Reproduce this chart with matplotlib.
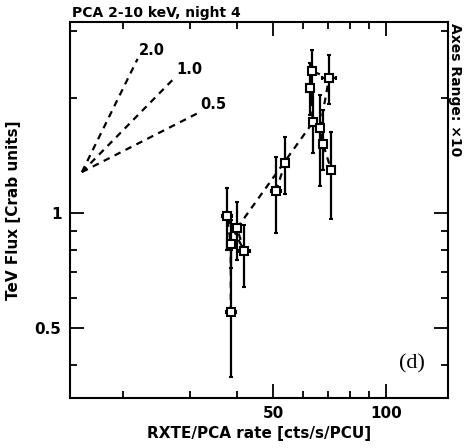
import numpy as np
import matplotlib
matplotlib.use("Agg")
import matplotlib.pyplot as plt
from matplotlib.ticker import FixedLocator, NullFormatter

# PCA count rate (cts/s/PCU) and TeV flux (Crab units), in time order
rate = [38.6, 38.6, 37.7, 41.9, 40.1, 63.9, 62.8, 63.5, 70.5, 66.7, 67.9, 71.3]
rate_err = [1.2, 0.0, 1.2, 1.6, 0.0, 0.0, 0.0, 0.0, 3.0, 0.0, 0.0, 0.0]
flux = [0.55, 0.83, 0.98, 0.795, 0.913, 1.73, 2.12, 2.35, 2.26, 1.67, 1.52, 1.30]
flux_lo = [0.372, 0.72, 0.80, 0.64, 0.753, 1.44, 1.81, 1.92, 1.93, 1.18, 1.30, 0.965]
flux_hi = [0.80, 0.96, 1.16, 0.93, 1.07, 2.10, 2.47, 2.67, 2.59, 2.04, 1.86, 1.63]

# second short run
rate2 = [50.9, 53.8]
rate2_err = [1.5, 0.0]
flux2 = [1.14, 1.35]
flux2_lo = [0.887, 1.12]
flux2_hi = [1.40, 1.58]

# reference slopes drawn from one corner point
slopes = [2.0, 1.0, 0.5]
slope_x_end = [21.8, 27.4, 31.6]
x0, y0 = 15.5, 1.28

fig = plt.figure(figsize=(4.69, 4.48), dpi=100)
ax = fig.add_axes([0.149, 0.1116, 0.806, 0.839])
ax.set_xscale("log")
ax.set_yscale("log")
ax.set_xlim(14.4, 146)
ax.set_ylim(0.328, 3.16)


def draw_run(x, xe, y, lo, hi):
    x = np.array(x)
    y = np.array(y)
    yerr = [y - np.array(lo), np.array(hi) - y]
    ax.plot(x, y, ls=(0, (3, 2.5)), color="black", lw=1.6, zorder=2)
    ax.errorbar(x, y, yerr=yerr, xerr=xe, fmt="s", ms=5.5, mfc="white",
                mec="black", mew=1.5, ecolor="black", elinewidth=1.6,
                capsize=1.5, capthick=1.3, zorder=3)


draw_run(rate, rate_err, flux, flux_lo, flux_hi)
draw_run(rate2, rate2_err, flux2, flux2_lo, flux2_hi)

for s, xe in zip(slopes, slope_x_end):
    ye = y0 * (xe / x0) ** s
    ax.plot([x0, xe], [y0, ye], ls=(0, (3, 2.5)), color="black", lw=1.6)
    ax.text(xe * 1.01, ye * 1.005, "%.1f" % s, fontsize=10.5,
            fontweight="bold", ha="left", va="bottom")

# ticks on all four sides, only a few labelled
ax.xaxis.set_major_locator(FixedLocator([50, 100]))
ax.xaxis.set_minor_locator(FixedLocator([20, 30, 40, 60, 70, 80, 90]))
ax.yaxis.set_major_locator(FixedLocator([0.5, 1]))
ax.yaxis.set_minor_locator(FixedLocator([0.4, 0.6, 0.7, 0.8, 0.9, 2, 3]))
ax.set_xticklabels(["50", "100"])
ax.set_yticklabels(["0.5", "1"])
ax.xaxis.set_minor_formatter(NullFormatter())
ax.yaxis.set_minor_formatter(NullFormatter())
ax.tick_params(which="both", direction="in", top=True, right=True, width=1.3,
               labelsize=11, pad=6)
ax.tick_params(which="major", length=10)
ax.tick_params(which="minor", length=5)
for lab in ax.get_xticklabels() + ax.get_yticklabels():
    lab.set_fontweight("bold")
for sp in ax.spines.values():
    sp.set_linewidth(1.5)

ax.set_xlabel("RXTE/PCA rate [cts/s/PCU]", fontsize=11, fontweight="bold",
              labelpad=3)
ax.set_ylabel("TeV Flux [Crab units]", fontsize=11, fontweight="bold",
              labelpad=10)

fig.text(0.153, 0.972, "PCA 2-10 keV, night 4", fontsize=10,
         fontweight="bold", ha="left", va="center")
fig.text(0.97, 0.949, "Axes Range: \u00d710", fontsize=10, fontweight="bold",
         rotation=270, ha="center", va="top")
ax.text(0.905, 0.09, "(d)", transform=ax.transAxes, fontsize=16,
        family="Liberation Serif", ha="center", va="center")

fig.savefig("out.png", dpi=100)
